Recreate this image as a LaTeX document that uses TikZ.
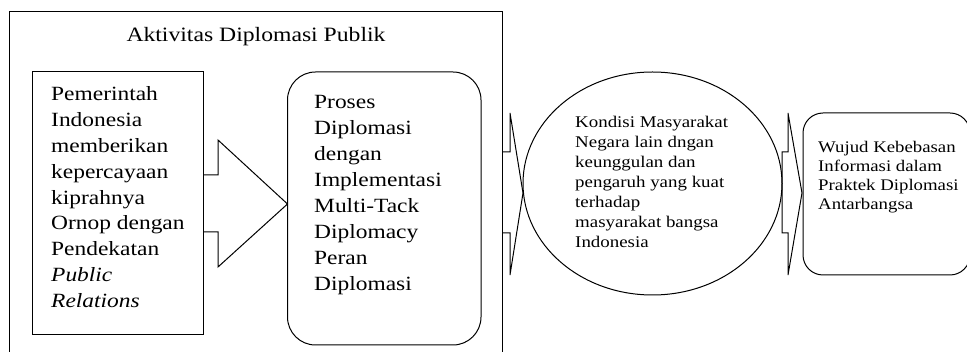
\documentclass[tikz,border=0pt]{standalone}
\usepackage{fontspec}
\setmainfont{Liberation Serif}
\usetikzlibrary{shapes.geometric}
\newcommand{\wide}[1]{\scalebox{1.16}[1]{#1}}
\begin{document}
\begin{tikzpicture}[x=1pt,y=-1pt,
  line/.style={draw=black,line width=1pt,line join=miter},
  bigtxt/.style={anchor=base west,inner sep=0pt,font=\fontsize{20.2}{25.9}\selectfont},
  smalltxt/.style={anchor=base west,inner sep=0pt,font=\fontsize{16.3}{20}\selectfont}]
\useasboundingbox (0,0) rectangle (967,352);
\clip (0,0) rectangle (967,352);
% outer frame
\draw[line] (9.5,11.5) rectangle (502,370);
\node[anchor=base,inner sep=0pt,font=\fontsize{20.4}{24}\selectfont] (title) at (256,42) {\wide{Aktivitas Diplomasi Publik}};
% left box
\draw[line] (32,72) rectangle (203,335);
\node[bigtxt] (ltxt) at (51,100.5) {\wide{\parbox[t]{150pt}{\raggedright
Pemerintah\\Indonesia\\memberikan\\kepercayaan\\kiprahnya\\Ornop dengan\\Pendekatan\\\textit{Public}\\\textit{Relations}}}};
% arrow 1
\draw[line] (203,175) -- (218,175) -- (218,140) -- (287.5,204) -- (218,267) -- (218,232) -- (203,232);
% rounded box 2
\draw[line,rounded corners=28pt] (287.5,72) rectangle (481,345);
\node[bigtxt] (ptxt) at (314,109) {\wide{\parbox[t]{160pt}{\raggedright
Proses\\Diplomasi\\dengan\\Implementasi\\Multi-Tack\\Diplomacy\\Peran\\Diplomasi}}};
% arrow 2
\draw[line] (502,152) -- (510,152) -- (510,113) -- (523,193) -- (510,275) -- (510,233) -- (502,233);
% ellipse
\node[ellipse,line,minimum width=259pt,minimum height=223pt,inner sep=0pt] (circ) at (652.5,183.5) {};
\node[smalltxt] (ctxt) at (575,128) {\wide{\parbox[t]{180pt}{\raggedright
Kondisi Masyarakat\\Negara lain dngan\\keunggulan dan\\pengaruh yang kuat\\terhadap\\masyarakat bangsa\\Indonesia}}};
% arrow 3
\draw[line] (782,233) -- (782,152) -- (788,152) -- (788,113) -- (802,193) -- (788,275) -- (788,233) -- cycle;
% rounded box 4
\draw[line,rounded corners=20pt] (803,113) rectangle (970,275);
\node[anchor=base west,inner sep=0pt,font=\fontsize{16.2}{19}\selectfont] (wtxt) at (818,153) {\wide{\parbox[t]{150pt}{\raggedright
Wujud Kebebasan\\Informasi dalam\\Praktek Diplomasi\\Antarbangsa}}};
\end{tikzpicture}
\end{document}
